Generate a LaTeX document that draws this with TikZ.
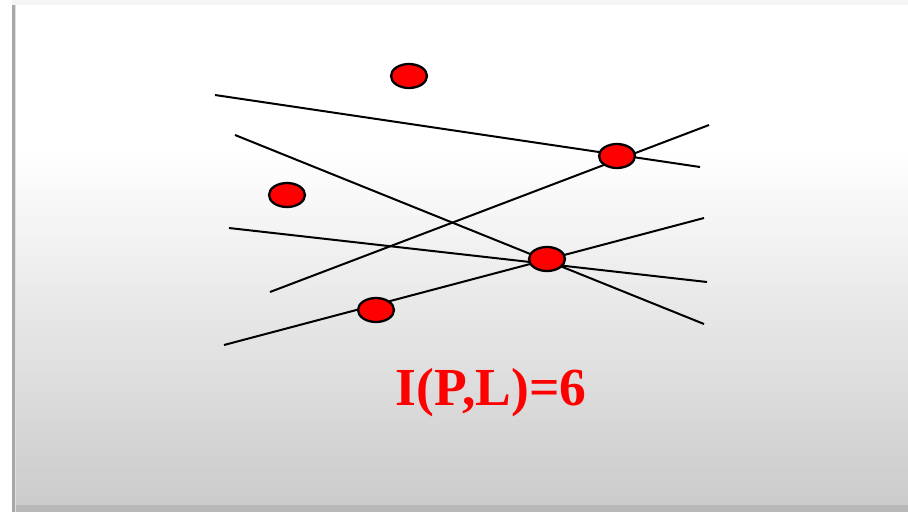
\documentclass[tikz,border=0pt]{standalone}
\usepackage{fontspec}
\setmainfont{Liberation Serif}
\usetikzlibrary{shapes.geometric}
\definecolor{slidebot}{HTML}{CBCBCB}
\definecolor{edgegray}{HTML}{A8A8A8}
\tikzset{
  pt/.style={ellipse, draw=black, fill=red, line width=2.3pt, minimum width=36pt, minimum height=24pt, inner sep=0pt},
  ln/.style={line width=2pt, black},
}
\begin{document}
\begin{tikzpicture}[x=1pt,y=-1pt]
\useasboundingbox (0,0) rectangle (908,512);
% outside area
\fill[white!96!black] (0,0) rectangle (908,512);
\fill[white] (0,0) rectangle (12,512);
% slide background
\fill[white] (13,5) rectangle (908,150);
\shade[top color=white, bottom color=slidebot] (13,150) rectangle (908,505);
\fill[edgegray!80!white] (13,505) rectangle (908,512);
% left edge shadow
\fill[edgegray] (12,5) rectangle (14.5,512);
\fill[gray!25] (14.5,5) rectangle (16,512);
% line endpoints
\coordinate (a1) at (215,95);  \coordinate (a2) at (700,167);
\coordinate (b1) at (235,135); \coordinate (b2) at (704,324);
\coordinate (c1) at (229,228); \coordinate (c2) at (707,282);
\coordinate (d1) at (270,292); \coordinate (d2) at (709,125);
\coordinate (e1) at (224,345); \coordinate (e2) at (704,218);
\draw[ln] (a1) -- (a2);
\draw[ln] (b1) -- (b2);
\draw[ln] (c1) -- (c2);
\draw[ln] (d1) -- (d2);
\draw[ln] (e1) -- (e2);
% points
\node[pt] (p1) at (409,76) {};
\node[pt] (p2) at (287,195) {};
\node[pt] (p3) at (617,156) {};
\node[pt] (p4) at (547,259) {};
\node[pt] (p5) at (376,310) {};
% label
\node[text=red, font=\bfseries\fontsize{53.5}{60}\selectfont, inner sep=0pt] (lbl) at (491,393) {I(P,L)=6};
\end{tikzpicture}
\end{document}
